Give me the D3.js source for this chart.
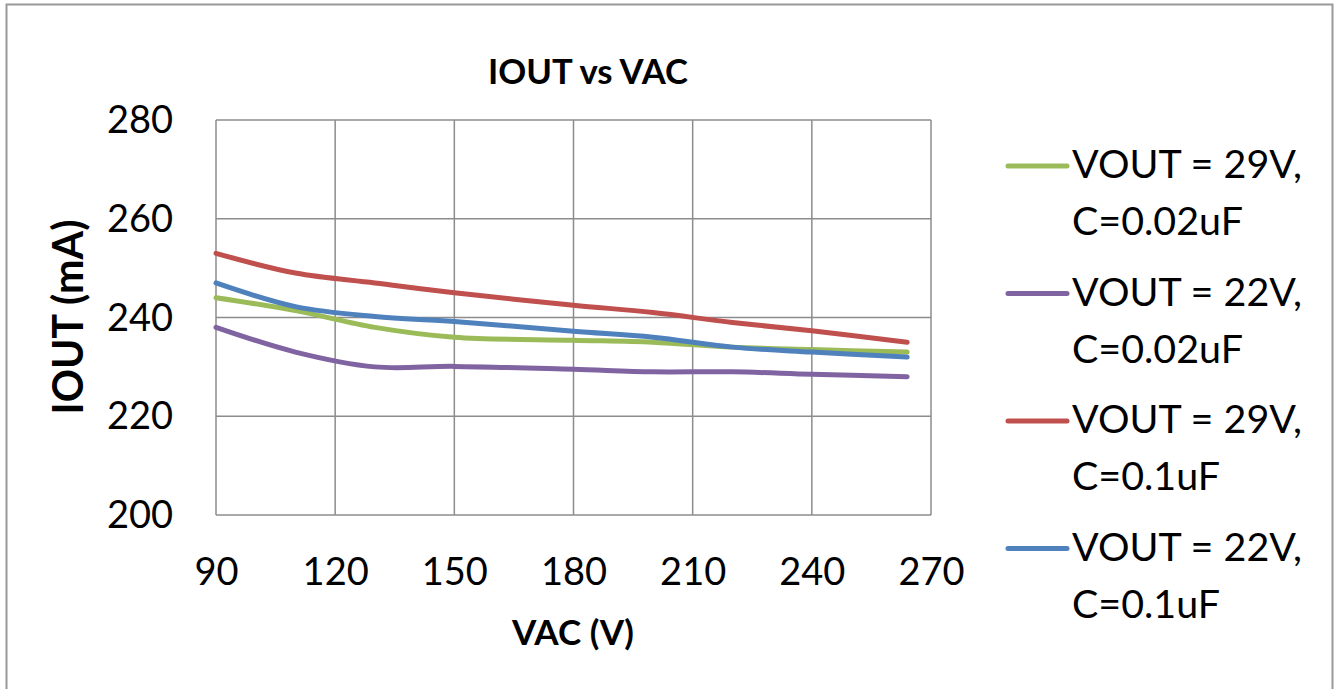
<!DOCTYPE html>
<html><head><meta charset="utf-8">
<script src="https://cdn.jsdelivr.net/npm/d3@7"></script>
<style>body{margin:0;background:#fff}svg{display:block}text{font-family:Lato,"Open Sans",sans-serif;fill:#000}</style>
</head><body><svg id="c" width="1334" height="689"></svg>
<script>
const vac = [90, 110, 130, 150, 180, 200, 220, 240, 264];
const s29_002 = [244, 241.4, 238, 236, 235.4, 235, 234, 233.5, 233];
const s22_002 = [238, 233, 230, 230.1, 229.5, 229, 229, 228.5, 228];
const s29_01 = [253, 249, 247, 245, 242.5, 241, 239, 237.3, 235];
const s22_01 = [247, 242.2, 240.2, 239.2, 237.2, 236, 234, 233, 232];
const seriesNames = [["VOUT = 29V,", "C=0.02uF"], ["VOUT = 22V,", "C=0.02uF"], ["VOUT = 29V,", "C=0.1uF"], ["VOUT = 22V,", "C=0.1uF"]];
const seriesValues = [s29_002, s22_002, s29_01, s22_01];
const colors = ["#9BBB59", "#8064A2", "#C0504D", "#4F81BD"];
const xTicks = [90, 120, 150, 180, 210, 240, 270];
const yTicks = [200, 220, 240, 260, 280];

const svg = d3.select("#c");
svg.append("rect").attr("x", 6.5).attr("y", 4.5).attr("width", 1326).attr("height", 700)
  .attr("fill", "#fff").attr("stroke", "#999").attr("stroke-width", 2);

const L = 216, R = 931, T = 120, B = 515;
const x = d3.scaleLinear().domain([90, 270]).range([L, R]);
const y = d3.scaleLinear().domain([200, 280]).range([B, T]);

function fit(sel, w) {
  sel.each(function() {
    const n = d3.select(this), fs = parseFloat(n.style("font-size"));
    const len = this.getComputedTextLength();
    n.style("font-size", (fs * w / len) + "px");
  });
}

// grid
const g = svg.append("g");
g.selectAll(".gx").data(xTicks).join("line").attr("x1", d => x(d)).attr("x2", d => x(d))
  .attr("y1", T).attr("y2", B).attr("stroke", "#8c8c8c").attr("stroke-width", 1.5);
g.selectAll(".gy").data(yTicks).join("line").attr("x1", L).attr("x2", R)
  .attr("y1", d => y(d)).attr("y2", d => y(d)).attr("stroke", "#8c8c8c").attr("stroke-width", 1.5);

// axes labels via d3 axes
const xa = svg.append("g").attr("transform", `translate(0,${B})`)
  .call(d3.axisBottom(x).tickValues(xTicks).tickSize(0).tickPadding(43).tickFormat(d3.format("d")));
xa.select(".domain").remove();
xa.selectAll("text").style("font-size", "38px").attr("font-family", "Lato").attr("fill", "#000");
const ya = svg.append("g").attr("transform", `translate(${L},0)`)
  .call(d3.axisLeft(y).tickValues(yTicks).tickSize(0).tickPadding(43).tickFormat(d3.format("d")));
ya.select(".domain").remove();
ya.selectAll("text").style("font-size", "38px").attr("font-family", "Lato").attr("fill", "#000").attr("dy", "0.33em");

// lines
const line = d3.line().x((d, i) => x(vac[i])).y(d => y(d)).curve(d3.curveCatmullRom.alpha(0.5));
svg.append("g").selectAll("path").data(seriesValues).join("path")
  .attr("d", d => line(d)).attr("fill", "none").attr("stroke", (d, i) => colors[i])
  .attr("stroke-width", 5).attr("stroke-linejoin", "round").attr("stroke-linecap", "round");

// title
const t = svg.append("text").attr("x", 588).attr("y", 84).attr("text-anchor", "middle")
  .style("font-size", "30px").style("font-weight", "bold").text("IOUT vs VAC");
fit(t, 200);
const xt = svg.append("text").attr("x", 573).attr("y", 645).attr("text-anchor", "middle")
  .style("font-size", "32px").style("font-weight", "bold").text("VAC (V)");
fit(xt, 122);
const yt = svg.append("text").attr("transform", "translate(83,317) rotate(-90)").attr("text-anchor", "middle")
  .style("font-size", "36px").style("font-weight", "bold").text("IOUT (mA)");
fit(yt, 195);

// legend
const lg = svg.append("g").selectAll("g").data(seriesNames).join("g")
  .attr("transform", (d, i) => `translate(0,${166 + i * 127.5})`);
lg.append("line").attr("x1", 1008).attr("x2", 1067).attr("y1", 0).attr("y2", 0)
  .attr("stroke", (d, i) => colors[i]).attr("stroke-width", 5).attr("stroke-linecap", "round");
lg.append("text").attr("x", 1072).attr("y", 12).style("font-size", "39px").text(d => d[0]);
lg.append("text").attr("x", 1072).attr("y", 69).style("font-size", "39px").text(d => d[1]);
fit(lg.select("text"), 230);
lg.selectAll("text").filter((d, i) => i === 1).style("font-size", function() {
  return d3.select(this.parentNode).select("text").style("font-size");
});
</script></body></html>
